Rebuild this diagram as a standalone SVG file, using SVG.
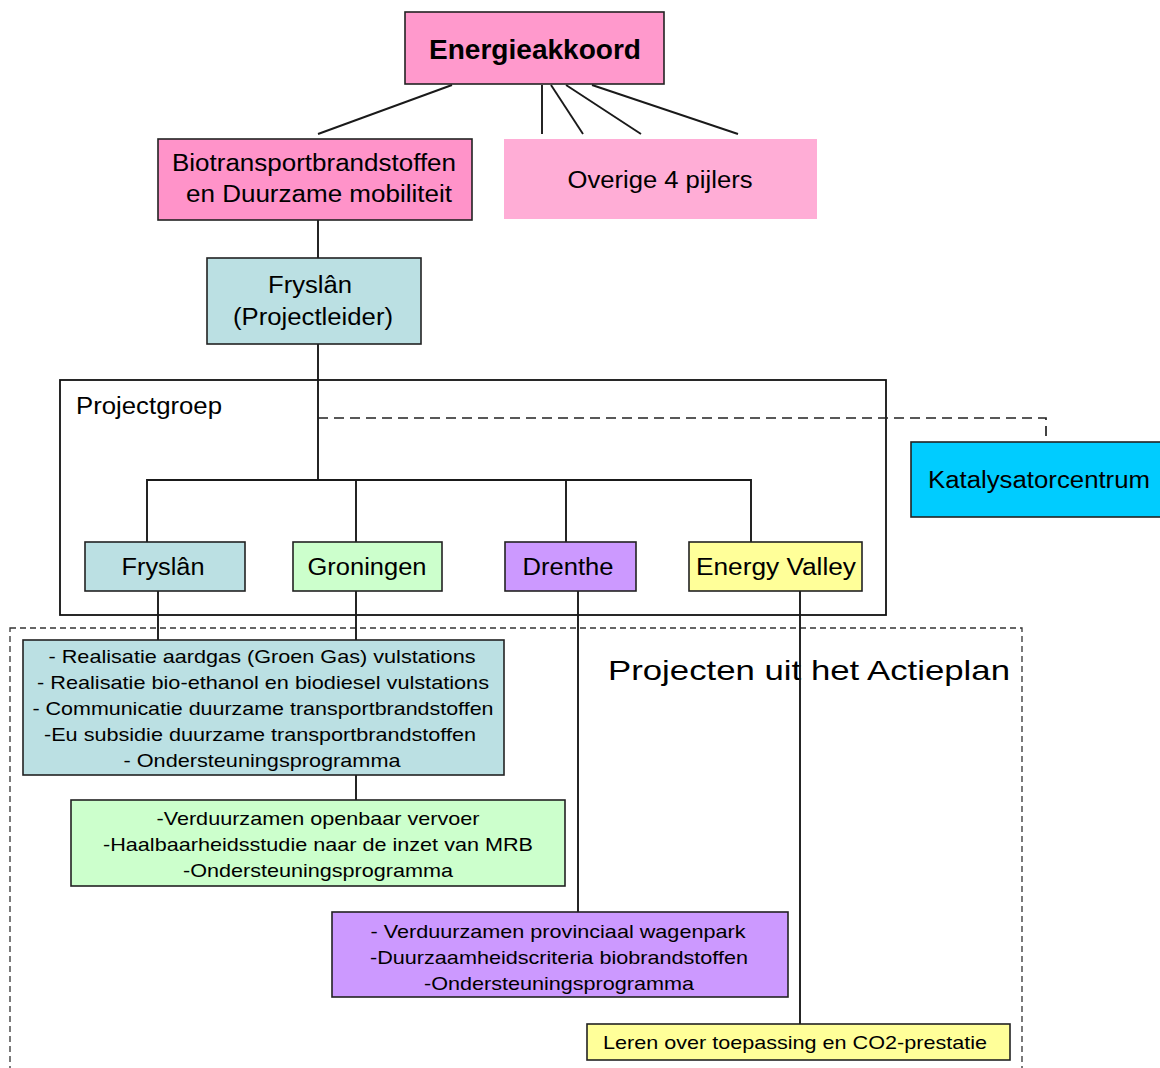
<svg xmlns="http://www.w3.org/2000/svg" width="1160" height="1068" viewBox="0 0 1160 1068">
<style>
text{font-family:"Liberation Sans",Arial,sans-serif;fill:#000;text-anchor:middle}
.b{stroke:#222;stroke-width:1.6}
.l{fill:none;stroke:#1a1a1a;stroke-width:1.9}
.d{fill:none;stroke:#222;stroke-width:1.7;stroke-dasharray:10 6}
.dd{fill:none;stroke:#333;stroke-width:1.3;stroke-dasharray:6 4}
.m{font-size:23px}
.s{font-size:19px}
</style>
<rect width="1160" height="1068" fill="#fff"/>
<g id="projecten-area">
<rect class="dd" x="10" y="628" width="1012" height="460"/>
<text x="809" y="680" font-size="28" textLength="402" lengthAdjust="spacingAndGlyphs">Projecten uit het Actieplan</text>
</g>
<g id="projectgroep">
<rect x="60" y="380" width="826" height="235" fill="none" stroke="#111" stroke-width="1.8"/>
<text x="76" y="414" class="m" style="text-anchor:start" textLength="146" lengthAdjust="spacingAndGlyphs">Projectgroep</text>
</g>
<g id="connectors">
<line class="l" x1="452" y1="85" x2="318" y2="134"/>
<line class="l" x1="542" y1="85" x2="542" y2="134"/>
<line class="l" x1="551" y1="85" x2="583" y2="134"/>
<line class="l" x1="566" y1="85" x2="641" y2="134"/>
<line class="l" x1="592" y1="85" x2="738" y2="134"/>
<line class="l" x1="318" y1="220" x2="318" y2="258"/>
<line class="l" x1="318" y1="344" x2="318" y2="480"/>
<polyline class="d" points="318,418 1046,418 1046,442"/>
<polyline class="l" points="147,542 147,480 751,480 751,542"/>
<line class="l" x1="356" y1="480" x2="356" y2="542"/>
<line class="l" x1="566" y1="480" x2="566" y2="542"/>
<line class="l" x1="158" y1="591" x2="158" y2="640"/>
<line class="l" x1="356" y1="591" x2="356" y2="640"/>
<line class="l" x1="356" y1="775" x2="356" y2="800"/>
<line class="l" x1="578" y1="591" x2="578" y2="912"/>
<line class="l" x1="800" y1="591" x2="800" y2="1024"/>
</g>
<g id="energieakkoord">
<rect class="b" x="405" y="12" width="259" height="72" fill="#FF99CC"/>
<text x="535" y="59" font-size="28" font-weight="bold" textLength="212" lengthAdjust="spacingAndGlyphs">Energieakkoord</text>
</g>
<g id="biotransport">
<rect class="b" x="158" y="139" width="314" height="81" fill="#FF93C9"/>
<text x="314" y="171" class="m" textLength="284" lengthAdjust="spacingAndGlyphs">Biotransportbrandstoffen</text>
<text x="319" y="202" class="m" textLength="266" lengthAdjust="spacingAndGlyphs">en Duurzame mobiliteit</text>
</g>
<g id="overige">
<rect x="504" y="139" width="313" height="80" fill="#FFADD6"/>
<text x="660" y="188" class="m" textLength="185" lengthAdjust="spacingAndGlyphs">Overige 4 pijlers</text>
</g>
<g id="fryslan-projectleider">
<rect class="b" x="207" y="258" width="214" height="86" fill="#BBE0E3"/>
<text x="310" y="293" class="m" textLength="84" lengthAdjust="spacingAndGlyphs">Fryslân</text>
<text x="313" y="325" class="m" textLength="160" lengthAdjust="spacingAndGlyphs">(Projectleider)</text>
</g>
<g id="katalysatorcentrum">
<rect class="b" x="911" y="442" width="252" height="75" fill="#00CCFF"/>
<text x="1039" y="488" class="m" textLength="222" lengthAdjust="spacingAndGlyphs">Katalysatorcentrum</text>
</g>
<g id="fryslan">
<rect class="b" x="85" y="542" width="160" height="49" fill="#BBE0E3"/>
<text x="163" y="575" class="m" textLength="83" lengthAdjust="spacingAndGlyphs">Fryslân</text>
</g>
<g id="groningen">
<rect class="b" x="293" y="542" width="149" height="49" fill="#CCFFCC"/>
<text x="367" y="575" class="m" textLength="119" lengthAdjust="spacingAndGlyphs">Groningen</text>
</g>
<g id="drenthe">
<rect class="b" x="505" y="542" width="131" height="49" fill="#CC99FF"/>
<text x="568" y="575" class="m" textLength="91" lengthAdjust="spacingAndGlyphs">Drenthe</text>
</g>
<g id="energy-valley">
<rect class="b" x="689" y="542" width="173" height="49" fill="#FFFF99"/>
<text x="776" y="575" class="m" textLength="160" lengthAdjust="spacingAndGlyphs">Energy Valley</text>
</g>
<g id="fryslan-projecten">
<rect class="b" x="23" y="640" width="481" height="135" fill="#BBE0E3"/>
<text x="262" y="663" class="s" textLength="427" lengthAdjust="spacingAndGlyphs">- Realisatie aardgas (Groen Gas) vulstations</text>
<text x="263" y="689" class="s" textLength="452" lengthAdjust="spacingAndGlyphs">- Realisatie bio-ethanol en biodiesel vulstations</text>
<text x="263" y="715" class="s" textLength="461" lengthAdjust="spacingAndGlyphs">- Communicatie duurzame transportbrandstoffen</text>
<text x="260" y="741" class="s" textLength="432" lengthAdjust="spacingAndGlyphs">-Eu subsidie duurzame transportbrandstoffen</text>
<text x="262" y="767" class="s" textLength="277" lengthAdjust="spacingAndGlyphs">- Ondersteuningsprogramma</text>
</g>
<g id="groningen-projecten">
<rect class="b" x="71" y="800" width="494" height="86" fill="#CCFFCC"/>
<text x="318" y="825" class="s" textLength="323" lengthAdjust="spacingAndGlyphs">-Verduurzamen openbaar vervoer</text>
<text x="318" y="851" class="s" textLength="430" lengthAdjust="spacingAndGlyphs">-Haalbaarheidsstudie naar de inzet van MRB</text>
<text x="318" y="877" class="s" textLength="270" lengthAdjust="spacingAndGlyphs">-Ondersteuningsprogramma</text>
</g>
<g id="drenthe-projecten">
<rect class="b" x="332" y="912" width="456" height="85" fill="#CC99FF"/>
<text x="558" y="938" class="s" textLength="375" lengthAdjust="spacingAndGlyphs">- Verduurzamen provinciaal wagenpark</text>
<text x="559" y="964" class="s" textLength="378" lengthAdjust="spacingAndGlyphs">-Duurzaamheidscriteria biobrandstoffen</text>
<text x="559" y="990" class="s" textLength="270" lengthAdjust="spacingAndGlyphs">-Ondersteuningsprogramma</text>
</g>
<g id="energy-valley-projecten">
<rect class="b" x="587" y="1024" width="423" height="36" fill="#FFFF99"/>
<text x="795" y="1049" class="s" textLength="384" lengthAdjust="spacingAndGlyphs">Leren over toepassing en CO2-prestatie</text>
</g>
</svg>
